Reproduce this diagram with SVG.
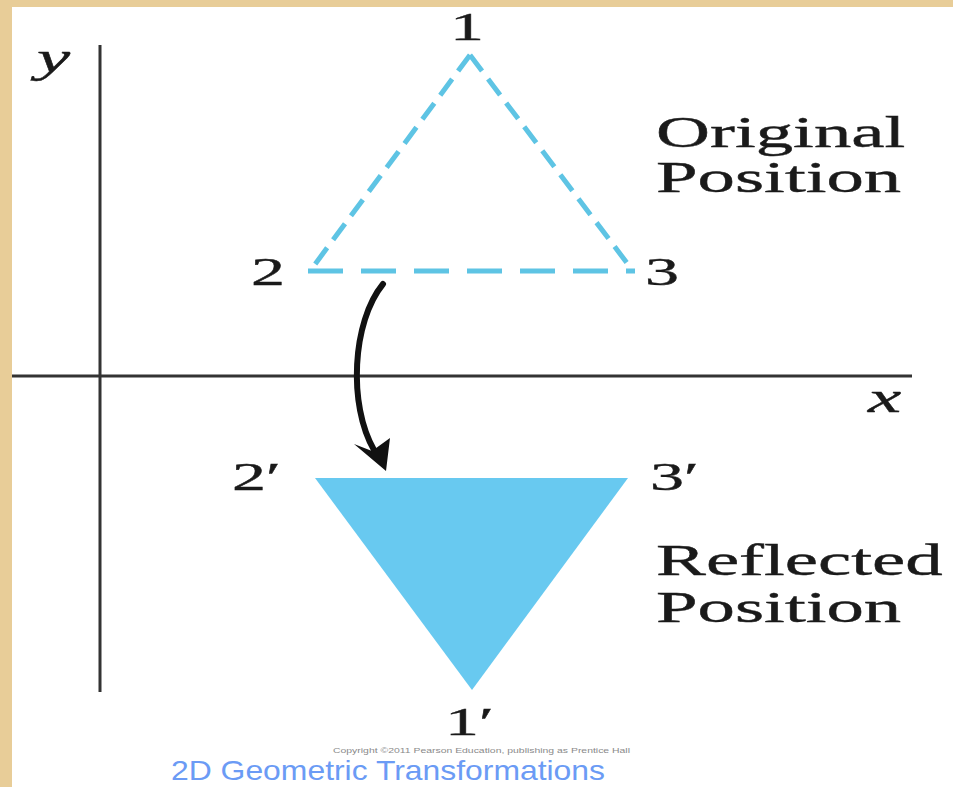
<svg xmlns="http://www.w3.org/2000/svg" width="953" height="787" viewBox="0 0 953 787">
<defs>
<style>
.t{font-family:"Liberation Serif","Times New Roman",serif;fill:#1a1a1a;stroke:#1a1a1a;stroke-width:0.4}
.lab{font-size:44px}
.num{font-size:40px}
.it{font-style:italic}
.axis{stroke:#333;stroke-width:3;fill:none}
.dash{stroke:#5ec4e4;stroke-width:5;fill:none;stroke-linecap:butt}
</style>
</defs>
<rect x="0" y="0" width="953" height="787" fill="#e8cd98"/>
<rect x="12" y="7" width="941" height="780" fill="#ffffff"/>
<g id="axes">
<line class="axis" x1="100" y1="45" x2="100" y2="692"/>
<line class="axis" x1="12" y1="376" x2="912" y2="376" stroke-width="2.5"/>
<text class="t lab it" transform="translate(37,72) scale(1.7,1)">y</text>
<text class="t lab it" transform="translate(868,412) scale(1.7,1)">x</text>
</g>
<g id="original">
<line class="dash" x1="470" y1="55" x2="310" y2="271" stroke-dasharray="20 10"/>
<line class="dash" x1="470" y1="55" x2="633" y2="271" stroke-dasharray="20 10"/>
<line class="dash" x1="308" y1="271" x2="635" y2="271" stroke-dasharray="35 18"/>
<text class="t num" text-anchor="middle" transform="translate(467,40) scale(1.7,1)">1</text>
<text class="t num" text-anchor="middle" transform="translate(268,285) scale(1.7,1)">2</text>
<text class="t num" text-anchor="middle" transform="translate(662,285) scale(1.7,1)">3</text>
<text class="t lab" transform="translate(656,147) scale(1.7,1)">Original</text>
<text class="t lab" transform="translate(656,192) scale(1.7,1)">Position</text>
</g>
<g id="reflected">
<polygon points="315,478 628,478 472,690" fill="#68c9f0"/>
<text class="t num" transform="translate(232,490) scale(1.7,1)">2′</text>
<text class="t num" transform="translate(650,490) scale(1.7,1)">3′</text>
<text class="t num" transform="translate(445,735) scale(1.7,1)">1′</text>
<text class="t lab" transform="translate(656,575) scale(1.7,1)">Reflected</text>
<text class="t lab" transform="translate(656,622) scale(1.7,1)">Position</text>
</g>
<g id="connectors">
<path d="M383,284 C352,322 348,405 374,450" stroke="#111" stroke-width="6" fill="none" stroke-linecap="round"/>
<polygon points="386,471 354,444 372,451 390,438" fill="#111"/>
</g>
<g id="footer">
<text x="333" y="753" font-family="Liberation Sans, Arial, sans-serif" font-size="7" fill="#8a8a8a" textLength="297" lengthAdjust="spacingAndGlyphs">Copyright ©2011 Pearson Education, publishing as Prentice Hall</text>
<text x="171" y="780" font-family="Liberation Sans, Arial, sans-serif" font-size="28" fill="#6b9bf5" textLength="434" lengthAdjust="spacingAndGlyphs">2D Geometric Transformations</text>
</g>
</svg>
